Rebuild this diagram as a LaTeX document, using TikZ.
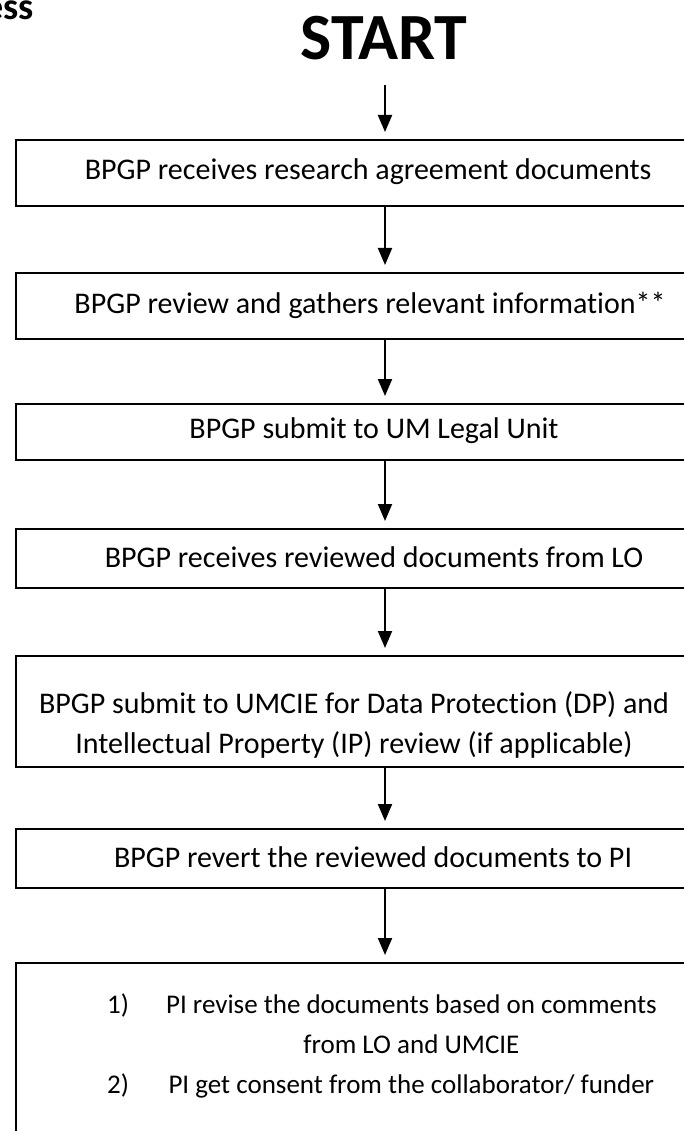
\documentclass[tikz,border=0pt]{standalone}
\usepackage{fontspec}
\setmainfont{Carlito}[Ligatures=NoCommon]
\usetikzlibrary{arrows.meta}
\begin{document}
\begin{tikzpicture}[x=1pt,y=-1pt,
  box/.style={draw=black,line width=2.4pt,rectangle,inner sep=0pt,minimum width=720pt},
  txt/.style={inner sep=0pt,font=\fontsize{30}{40}\selectfont,align=center},
  flow/.style={line width=2pt,-{Triangle[length=17pt,width=14pt]}}]
\useasboundingbox (0,0) rectangle (684,1131);
\clip (0,0) rectangle (684,1131);
\fill[white] (0,0) rectangle (684,1131);
\node[anchor=base east,inner sep=0pt,font=\fontsize{38}{44}\selectfont\bfseries] (ess) at (34,20) {ess};
\node[inner sep=0pt,font=\fontsize{66}{76}\selectfont\bfseries] (start) at (384,38) {START};
% boxes
\node[box,minimum height=66pt,anchor=north west] (b1) at (15,139) {};
\node[box,minimum height=66pt,anchor=north west] (b2) at (15,272) {};
\node[box,minimum height=56pt,anchor=north west] (b3) at (15,403) {};
\node[box,minimum height=59pt,anchor=north west] (b4) at (15,528) {};
\node[box,minimum height=111pt,anchor=north west] (b5) at (15,655) {};
\node[box,minimum height=59pt,anchor=north west] (b6) at (15,828) {};
\node[box,minimum height=200pt,anchor=north west] (b7) at (15,962) {};
% texts
\node[txt] (t1) at (368,172) {BPGP receives research agreement documents};
\node[txt] (t2) at (370,305) {BPGP review and gathers relevant information**};
\node[txt] (t3) at (374,431) {BPGP submit to UM Legal Unit};
\node[txt] (t4) at (374,557) {BPGP receives reviewed documents from LO};
\node[txt] (t5) at (354,725) {BPGP submit to UMCIE for Data Protection (DP) and\\Intellectual Property (IP) review (if applicable)};
\node[txt] (t6) at (373,857) {BPGP revert the reviewed documents to PI};
\node[txt,anchor=north west,font=\fontsize{27}{40}\selectfont] (t7) at (107,985) {%
\begin{tabular}{@{}l@{\hspace{37pt}}c@{}}
1) & PI revise the documents based on comments\\
   & from LO and UMCIE\\
2) & PI get consent from the collaborator/ funder
\end{tabular}};
% arrows
\coordinate (a0) at (385,85);
\draw[flow] (a0) -- ([yshift=7pt]b1.north -| a0);
\draw[flow] (b1.south -| a0) -- ([yshift=7pt]b2.north -| a0);
\draw[flow] (b2.south -| a0) -- ([yshift=7pt]b3.north -| a0);
\draw[flow] (b3.south -| a0) -- ([yshift=7pt]b4.north -| a0);
\draw[flow] (b4.south -| a0) -- ([yshift=7pt]b5.north -| a0);
\draw[flow] (b5.south -| a0) -- ([yshift=7pt]b6.north -| a0);
\draw[flow] (b6.south -| a0) -- ([yshift=7pt]b7.north -| a0);
\end{tikzpicture}
\end{document}
